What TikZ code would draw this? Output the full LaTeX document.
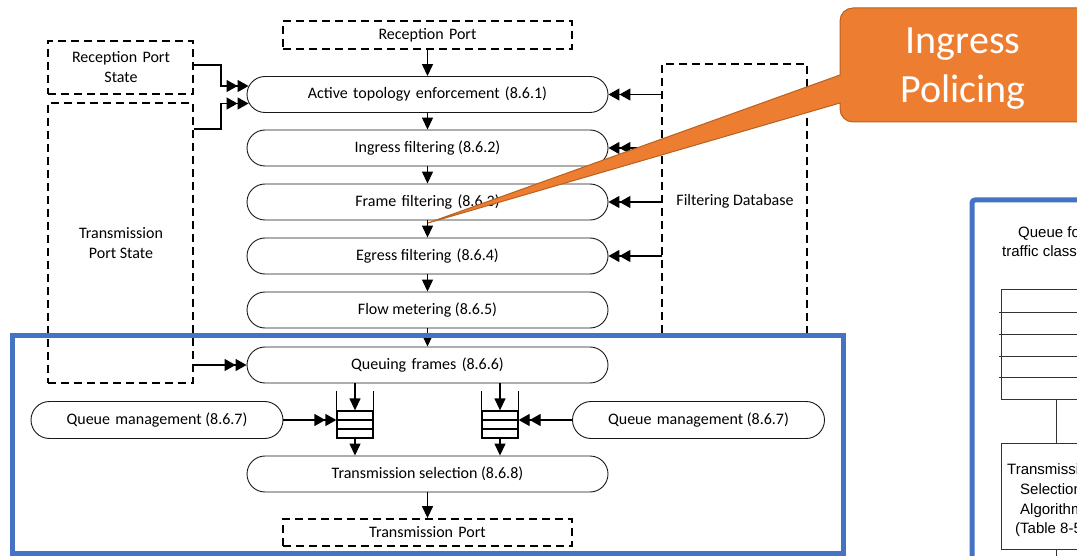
\documentclass[tikz,border=0pt]{standalone}
\usepackage{fontspec}
\setmainfont{Carlito}
\newfontfamily\arialf{Liberation Sans}
\usetikzlibrary{shapes.misc,arrows.meta,calc}
\definecolor{bluebox}{HTML}{4472C4}
\definecolor{orfill}{HTML}{ED7D31}
\definecolor{orline}{HTML}{B9611F}
\definecolor{thin}{HTML}{333333}
\begin{document}
\begin{tikzpicture}[x=1pt,y=-1pt,
  pill/.style={draw=black!90,line width=0.9pt,rounded rectangle,minimum width=361pt,minimum height=36pt,inner sep=0pt,font=\fontsize{16}{19}\selectfont},
  qmpill/.style={pill,minimum width=252pt,minimum height=37pt},
  dbox/.style={draw,line width=1.8pt,dash pattern=on 8pt off 5pt,inner sep=0pt,font=\fontsize{16}{20}\selectfont,align=center},
  dline/.style={line width=1.8pt,dash pattern=on 8pt off 5pt},
  arr/.style={line width=1.3pt,-{Triangle[length=12pt,width=11pt]}},
  darr/.style={line width=1.3pt,-{Triangle[length=11pt,width=12pt,sep=0pt]Triangle[length=11pt,width=12pt]}},
  qbox/.style={draw,line width=1.3pt,minimum width=36pt,minimum height=27pt,inner sep=0pt},
  qwall/.style={line width=1.3pt},
  frame/.style={draw=bluebox,line width=5pt},
  rtxt/.style={font=\arialf\fontsize{15}{17}\selectfont,anchor=base west,inner sep=0pt,text=black},
  rline/.style={draw=thin,line width=1pt},
  callout/.style={fill=orfill,draw=orline,line width=1pt},
  calltext/.style={text=white,font=\fontsize{40}{49}\selectfont,align=center,inner sep=0pt}
]
\useasboundingbox (0,0) rectangle (1077,556);
\clip (0,0) rectangle (1077,556);
\fill[white] (0,0) rectangle (1077,556);

% dashed boxes
\node[dbox,minimum width=289pt,minimum height=28pt] (rp) at (427.5,35) {Reception\,\,Port};
\node[dbox,minimum width=145pt,minimum height=53pt] (rps) at (120.5,67.5) {};
\node[font=\fontsize{16}{20}\selectfont,align=center] (rpstext) at (121,67) {Reception\,\,Port\\State};
\node[dbox,minimum width=145pt,minimum height=280pt] (tps) at (120.5,243) {};
\node[font=\fontsize{16}{20}\selectfont,align=center] (tpstext) at (121,243) {Transmission\\Port State};
\coordinate (fdbl) at (662,64);
\coordinate (fdbr) at (807,64);
\draw[dline] (662,333) -- (fdbl) -- (fdbr) -- (807,333);
\node[font=\fontsize{16}{20}\selectfont] (fdbtext) at (735,201) {Filtering Database};
\node[dbox,minimum width=289pt,minimum height=27pt] (tp) at (427.5,532.5) {Transmission\,\,Port};

% pills
\node[pill] (p1) at (427.5,94.5) {Active\,\,topology\,\,enforcement\,\,(8.6.1)};
\node[pill] (p2) at (427.5,148) {Ingress filtering (8.6.2)};
\node[pill] (p3) at (427.5,202) {Frame\,\,filtering\,\,(8.6.3)};
\node[pill] (p4) at (427.5,256) {Egress filtering\,\,(8.6.4)};
\node[pill] (p5) at (427.5,310) {Flow metering (8.6.5)};
\node[pill] (p6) at (427.5,365) {Queuing\,\,frames\,\,(8.6.6)};
\node[pill] (p7) at (427.5,474) {Transmission selection (8.6.8)};
\node[qmpill] (qm1) at (157,420) {Queue\,\,management (8.6.7)};
\node[qmpill] (qm2) at (698.5,420) {Queue\,\,management (8.6.7)};

% queues
\node[qbox] (q1) at (355,424.5) {};
\node[qbox] (q2) at (500,424.5) {};
\foreach \q in {q1,q2}{
  \draw[qwall] (\q.north west) -- ++(0,-19);
  \draw[qwall] (\q.north east) -- ++(0,-19);
  \draw[qwall] ($(\q.west)+(0,-4.5)$) -- ($(\q.east)+(0,-4.5)$);
  \draw[qwall] ($(\q.west)+(0,4.5)$) -- ($(\q.east)+(0,4.5)$);
}

% vertical flow
\draw[arr] (rp.south) -- (p1.north);
\draw[arr] (p1.south) -- (p2.north);
\draw[arr] (p2.south) -- (p3.north);
\draw[arr] (p3.south) -- (p4.north);
\draw[arr] (p4.south) -- (p5.north);
\draw[arr] (p5.south) -- (p6.north);
\draw[arr] (p6.south -| q1.north) -- (q1.north);
\draw[arr] (p6.south -| q2.north) -- (q2.north);
\draw[arr] (q1.south) -- (q1.south |- p7.north);
\draw[arr] (q2.south) -- (q2.south |- p7.north);
\draw[arr] (p7.south) -- (tp.north);

% side inputs
\draw[darr] ($(rps.east)+(0,-2.5)$) -- ++(27,0) |- ($(p1.west)+(2,-8.5)$);
\draw[darr] ($(tps.north east)+(0,27)$) -- ++(27,0) |- ($(p1.west)+(2,9)$);
\draw[darr] (tps.east |- p6.west) -- (p6.west);
\draw[darr] (qm1.east) -- (qm1.east -| q1.west);
\draw[darr] (qm2.west) -- (qm2.west -| q2.east);
\foreach \p in {p1,p2,p3,p4}{
  \draw[darr] (\p.east -| fdbl) -- (\p.east);
}

% blue frames
\draw[frame] (12,335) rectangle (843,553);
\draw[frame,rounded corners=3pt] (972,200) rectangle (1110,580);

% right-hand detail
\draw[rline] (1001,290) rectangle (1120,399);
\foreach \yy in {313,334,356,377}{ \draw[rline] (999,\yy) -- (1120,\yy); }
\draw[rline] (1056,399) -- (1056,443);
\draw[rline] (1001,443) rectangle (1120,549);
\draw[rline] (1056,549) -- (1056,560);
\node[rtxt] (rq1) at (1018,238) {Queue for};
\node[rtxt] (rq2) at (1002,257) {traffic class};
\node[rtxt] (rt1) at (1007,474) {Transmission};
\node[rtxt] (rt2) at (1020,494) {Selection};
\node[rtxt] (rt3) at (1020,514) {Algorithm};
\node[rtxt] (rt4) at (1015,533) {(Table 8-5)};

% callout
\coordinate (tip) at (428,223);
\draw[callout] (tip) -- (840,103) [rounded corners=13pt] -- (840,122) -- (1090,122) -- (1090,8) -- (840,8) [sharp corners] -- (840,75) -- cycle;
\node[calltext] (cl) at (963,69) {Ingress\\Policing};
\end{tikzpicture}
\end{document}
